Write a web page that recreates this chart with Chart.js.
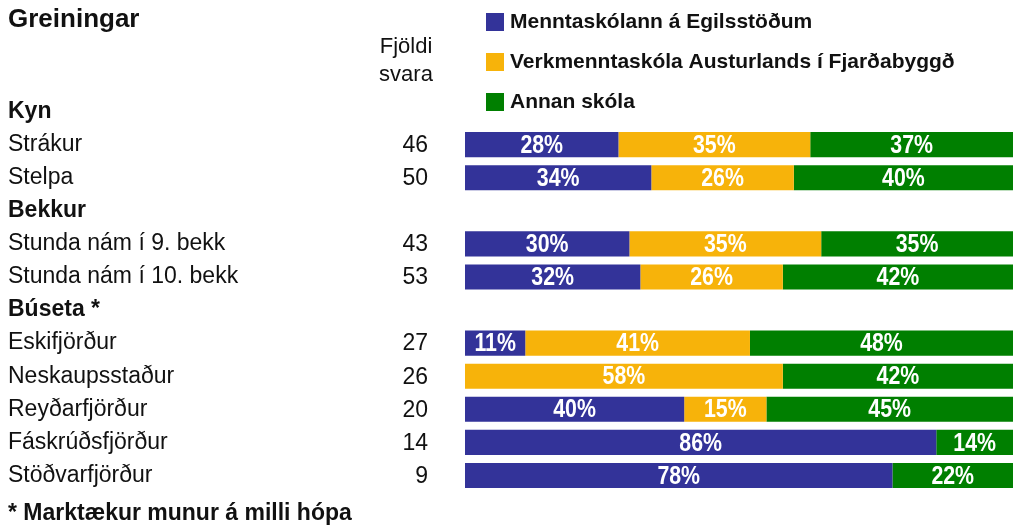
<!DOCTYPE html>
<html>
<head>
<meta charset="utf-8">
<script src="https://cdn.jsdelivr.net/npm/chart.js@4"></script>
<style>
  html, body { margin: 0; padding: 0; background: #fff; }
  #wrap { width: 1016px; height: 527px; position: relative; }
</style>
</head>
<body>
<div id="wrap"><canvas id="chart" width="1016" height="527"></canvas></div>
<script>
// Rows (headers have no values)
const categories = ["Kyn", "Strákur", "Stelpa", "Bekkur", "Stunda nám í 9. bekk", "Stunda nám í 10. bekk",
    "Búseta *", "Eskifjörður", "Neskaupsstaður", "Reyðarfjörður", "Fáskrúðsfjörður", "Stöðvarfjörður"];
const headerRows = [0, 3, 6];
const counts = [null, 46, 50, null, 43, 53, null, 27, 26, 20, 14, 9];

const seriesNames = ["Menntaskólann á Egilsstöðum", "Verkmenntaskóla Austurlands í Fjarðabyggð", "Annan skóla"];
const egilsstadir = [null, 28, 34, null, 30, 32, null, 11, 0, 40, 86, 78];
const fjardabyggd = [null, 35, 26, null, 35, 26, null, 41, 58, 15, 0, 0];
const annan = [null, 37, 40, null, 35, 42, null, 48, 42, 45, 14, 22];

const colors = ["#333399", "#f7b30a", "#007f00"];
const FONT = "'Liberation Sans', Arial, sans-serif";

// Percent labels inside bars
const barLabels = {
    id: "barLabels",
    afterDatasetsDraw(chart) {
        const ctx = chart.ctx;
        ctx.save();
        ctx.fillStyle = "#fff";
        ctx.font = "bold 26px " + FONT;
        ctx.textAlign = "center";
        ctx.textBaseline = "middle";
        chart.data.datasets.forEach((ds, di) => {
            chart.getDatasetMeta(di).data.forEach((el, i) => {
                const v = ds.data[i];
                if (!v) return;
                const p = el.getProps(["x", "base", "y"], true);
                ctx.save();
                ctx.translate((p.x + p.base) / 2, p.y + 1);
                ctx.scale(0.82, 1);
                ctx.fillText(v + "%", 0, 0);
                ctx.restore();
            });
        });
        ctx.restore();
    }
};

// Title, counts column, legend, footnote
const extras = {
    id: "extras",
    afterDraw(chart) {
        const ctx = chart.ctx;
        const y = chart.scales.y;
        ctx.save();
        ctx.fillStyle = "#111";
        ctx.textBaseline = "middle";

        ctx.font = "bold 26px " + FONT;
        ctx.textAlign = "left";
        ctx.fillText("Greiningar", 8, 20);

        ctx.font = "22px " + FONT;
        ctx.textAlign = "center";
        ctx.fillText("Fjöldi", 406, 47);
        ctx.fillText("svara", 406, 75);

        ctx.font = "23px " + FONT;
        ctx.textAlign = "right";
        counts.forEach((c, i) => {
            if (c == null) return;
            ctx.fillText(String(c), 428, y.getPixelForValue(i) + 1);
        });

        ctx.font = "bold 21px " + FONT;
        ctx.textAlign = "left";
        seriesNames.forEach((name, i) => {
            const ly = 22 + i * 40;
            ctx.fillStyle = colors[i];
            ctx.fillRect(486, ly - 9, 18, 18);
            ctx.fillStyle = "#111";
            ctx.fillText(name, 510, ly);
        });

        ctx.font = "bold 23px " + FONT;
        ctx.fillText("* Marktækur munur á milli hópa", 8, 514);
        ctx.restore();
    }
};

new Chart(document.getElementById("chart"), {
    type: "bar",
    data: {
        labels: categories,
        datasets: [
            { label: seriesNames[0], data: egilsstadir, backgroundColor: colors[0] },
            { label: seriesNames[1], data: fjardabyggd, backgroundColor: colors[1] },
            { label: seriesNames[2], data: annan, backgroundColor: colors[2] }
        ]
    },
    options: {
        indexAxis: "y",
        responsive: false,
        animation: false,
        layout: { padding: { top: 95, bottom: 35, left: 8, right: 3 } },
        datasets: { bar: { barPercentage: 0.76, categoryPercentage: 1, borderWidth: 0 } },
        plugins: { legend: { display: false }, tooltip: { enabled: false } },
        scales: {
            x: { stacked: true, min: 0, max: 100, display: false },
            y: {
                stacked: true,
                grid: { display: false },
                border: { display: false },
                afterFit(scale) { scale.width = 457; },
                ticks: {
                    crossAlign: "far",
                    padding: 0,
                    color: "#111",
                    font: ctx => ({
                        family: FONT,
                        size: 23,
                        weight: headerRows.includes(ctx.index) ? "bold" : "normal"
                    })
                }
            }
        }
    },
    plugins: [barLabels, extras]
});
</script>
</body>
</html>
